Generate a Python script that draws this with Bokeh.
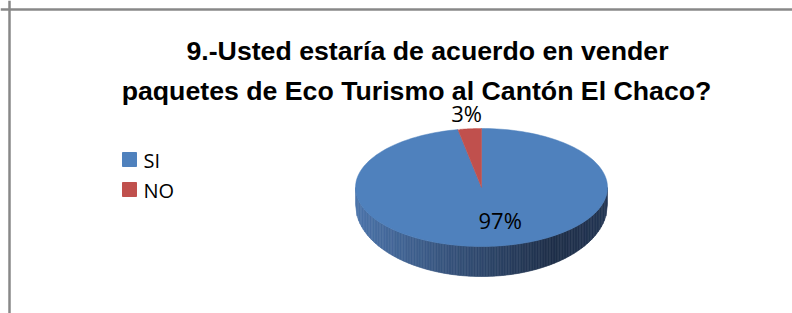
import numpy as np
from bokeh.plotting import figure
from bokeh.models import Span
from bokeh.core.properties import value
from bokeh.embed import file_html
from bokeh.resources import INLINE

# ---- data ----
categories = ["SI", "NO"]
values = [97, 3]
labels = ["97%", "3%"]
colors = ["#4F81BD", "#C0504D"]
title_lines = ["9.-Usted estaría de acuerdo en vender",
               "paquetes de Eco Turismo al Cantón El Chaco?"]

W, H = 792, 313
p = figure(width=W, height=H, x_range=(0, W), y_range=(0, H),
           output_backend="svg", toolbar_location=None,
           x_axis_type=None, y_axis_type=None, min_border=0,
           outline_line_color=None, background_fill_color="white")
p.grid.visible = False

# ---- geometry (pixels) ----
cx, cy = 481, 126      # top face centre
rx, ry = 126, 59       # top face radii
cyb, ryb = 109, 72     # bottom rim (perspective)

# ---- side of the pie with gradient ----
n = 160
xe = np.linspace(cx - rx, cx + rx, n + 1)
u = np.clip((xe - cx) / rx, -1, 1)
top_y = cy - ry * np.sqrt(1 - u ** 2)
bot_y = cyb - ryb * np.sqrt(1 - u ** 2)
c0 = np.array([76, 116, 170])
c1 = np.array([31, 47, 73])
c2 = np.array([36, 54, 84])
sx, sy, sc = [], [], []
for i in range(n):
    t = (i + 0.5) / n
    if t < 0.78:
        c = c0 + (c1 - c0) * (t / 0.78)
    else:
        c = c1 + (c2 - c1) * ((t - 0.78) / 0.22)
    col = "#%02x%02x%02x" % tuple(int(round(v)) for v in c)
    sx.append([xe[i], xe[i + 1], xe[i + 1], xe[i]])
    sy.append([top_y[i], top_y[i + 1], bot_y[i + 1], bot_y[i]])
    sc.append(col)
p.patches(sx, sy, fill_color=sc, line_color=sc, line_width=0.6)

# ---- top face slices ----
vals = np.array(values, dtype=float)
fr = vals / vals.sum()
ends = np.cumsum(fr) * 2 * np.pi
starts = ends - fr * 2 * np.pi
px, py = [], []
for s, e in zip(starts, ends):
    th = np.linspace(s, e, 200)
    px.append(np.concatenate([[cx], cx + rx * np.sin(th), [cx]]))
    py.append(np.concatenate([[cy], cy + ry * np.cos(th), [cy]]))
p.patches(px, py, fill_color=colors, line_color=colors, line_width=0.5)

# ---- data labels ----
mid = (starts + ends) / 2
rfac = np.array([0.56, 1.26])
xoff = np.array([12, 0])
lx = cx + rx * rfac * np.sin(mid) + xoff
ly = cy + ry * rfac * np.cos(mid)
p.text(lx, ly, text=labels, text_align="center", text_baseline="middle",
       text_font=value("Open Sans"), text_font_size="22px", text_color="black")

# ---- title ----
p.text([427, 416], [263, 223], text=title_lines, text_align="center",
       text_baseline="alphabetic", text_font=value("Liberation Sans"),
       text_font_style="bold", text_font_size="26.7px", text_color="black")

# ---- legend ----
p.scatter([129, 129], [154, 124], marker="square", size=14,
          fill_color=colors, line_color=colors)
p.text([143, 143], [153, 123], text=categories, text_align="left",
       text_baseline="alphabetic", text_font=value("Open Sans"),
       text_font_size="20px", text_color="black")

# ---- chart area border ----
p.add_layout(Span(location=9, dimension="height", line_color="#888888", line_width=2.5))
p.add_layout(Span(location=304, dimension="width", line_color="#888888", line_width=2.5))

open("out.html", "w").write(file_html(p, INLINE))
